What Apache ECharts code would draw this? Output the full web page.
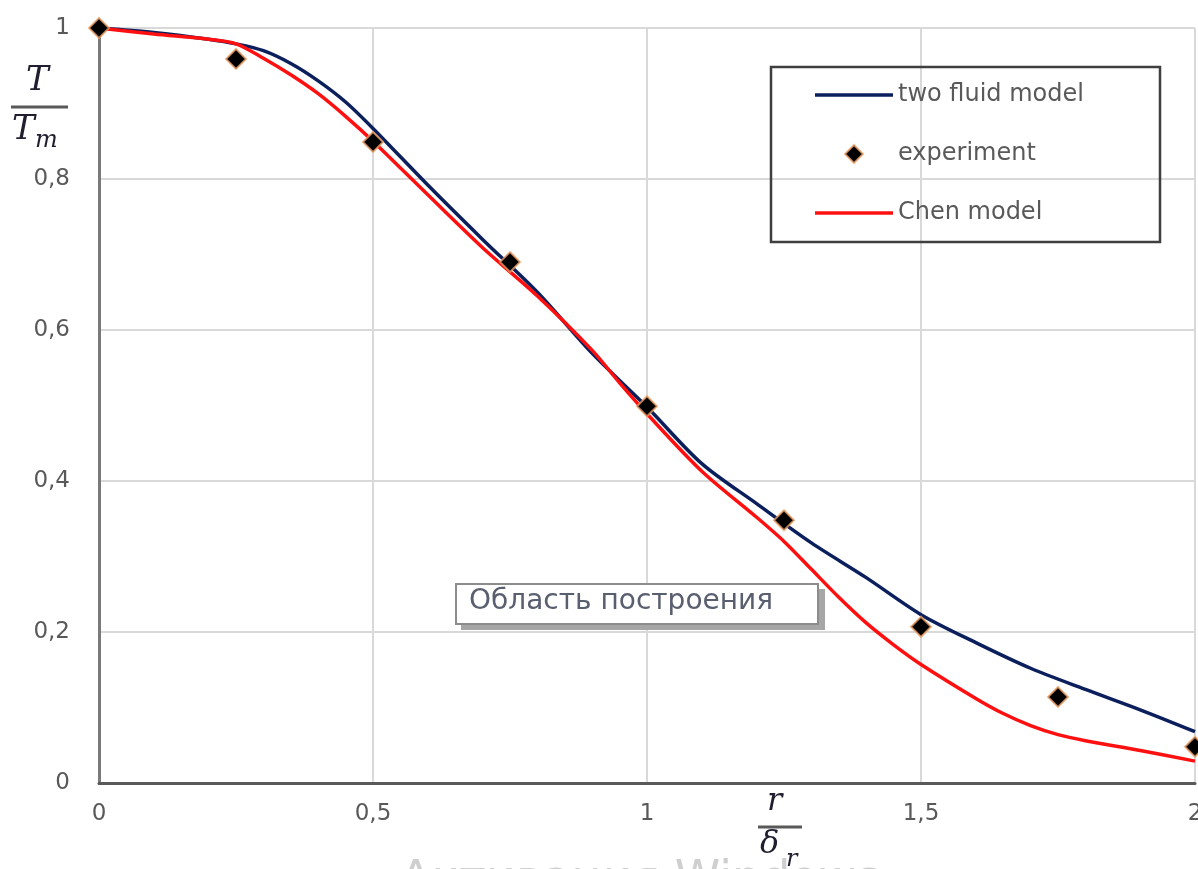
<!DOCTYPE html>
<html>
<head>
<meta charset="utf-8">
<script src="https://cdn.jsdelivr.net/npm/echarts@6/dist/echarts.min.js"></script>
<style>
html,body{margin:0;padding:0;background:#fff;}
#chart{width:1198px;height:869px;}
</style>
</head>
<body>
<div id="chart"></div>
<script>
// ---- data ----
const seriesNames = ['two fluid model', 'experiment', 'Chen model'];

const twoFluidX = [0, 0.1, 0.2, 0.25, 0.3, 0.35, 0.4, 0.45, 0.5, 0.6, 0.7, 0.8, 0.9, 1.0, 1.1, 1.2, 1.3, 1.4, 1.5, 1.6, 1.7, 1.8, 1.9, 2.0];
const twoFluidY = [1.0, 0.994, 0.985, 0.979, 0.970, 0.953, 0.930, 0.902, 0.867, 0.792, 0.720, 0.650, 0.569, 0.498, 0.423, 0.370, 0.318, 0.272, 0.223, 0.186, 0.152, 0.124, 0.097, 0.068];

const chenX = [0, 0.1, 0.2, 0.25, 0.3, 0.35, 0.4, 0.45, 0.5, 0.6, 0.7, 0.8, 0.9, 0.95, 1.0, 1.1, 1.2, 1.25, 1.3, 1.35, 1.4, 1.45, 1.5, 1.6, 1.65, 1.7, 1.75, 1.8, 1.9, 2.0];
const chenY = [1.0, 0.992, 0.985, 0.979, 0.960, 0.938, 0.913, 0.883, 0.850, 0.779, 0.709, 0.645, 0.573, 0.530, 0.489, 0.413, 0.352, 0.320, 0.283, 0.246, 0.212, 0.183, 0.157, 0.112, 0.092, 0.076, 0.064, 0.056, 0.043, 0.029];

const expX = [0, 0.25, 0.5, 0.75, 1.0, 1.25, 1.5, 1.75, 2.0];
const expY = [1.0, 0.959, 0.849, 0.690, 0.499, 0.348, 0.207, 0.114, 0.048];

const xMin = 0, xMax = 2, xStep = 0.5;
const yMin = 0, yMax = 1, yStep = 0.2;

const zip = (xs, ys) => xs.map((x, i) => [x, ys[i]]);
const fmt = v => String(+v.toFixed(2)).replace('.', ',');

const chart = echarts.init(document.getElementById('chart'), null, {renderer: 'canvas'});

const labelFont = 'DejaVu Sans';
const mathFont = 'DejaVu Serif';
const mathColor = '#1f1f2f';
const blue = '#0b1f5c';
const red = '#ff1010';

const lineIcon = 'path://M0,0 L78,0 L78,3.5 L0,3.5 Z';
const diamondIcon = 'path://M0,-10 L10,0 L0,10 L-10,0 Z';

const option = {
  animation: false,
  backgroundColor: '#ffffff',
  grid: {left: 99, right: 3, top: 28, bottom: 86, containLabel: false, outerBoundsMode: 'none'},
  xAxis: {
    type: 'value', min: xMin, max: xMax, interval: xStep,
    axisLine: {show: true, onZero: false, lineStyle: {color: '#595959', width: 3}},
    axisTick: {show: false},
    splitLine: {show: true, lineStyle: {color: '#d9d9d9', width: 2}},
    axisLabel: {color: '#595959', fontSize: 23, fontFamily: labelFont, margin: 20, formatter: fmt}
  },
  yAxis: {
    type: 'value', min: yMin, max: yMax, interval: yStep,
    axisLine: {show: true, onZero: false, lineStyle: {color: '#7a7a7a', width: 3}},
    axisTick: {show: false},
    splitLine: {show: true, lineStyle: {color: '#d9d9d9', width: 2}},
    axisLabel: {color: '#595959', fontSize: 23, fontFamily: labelFont, margin: 29, formatter: fmt}
  },
  legend: {
    orient: 'vertical', left: 815, top: 83,
    itemWidth: 78, itemHeight: 18, itemGap: 35,
    padding: 0, symbolKeepAspect: true,
    data: [
      {name: seriesNames[0], icon: lineIcon},
      {name: seriesNames[1], icon: diamondIcon},
      {name: seriesNames[2], icon: lineIcon}
    ],
    itemStyle: {opacity: 1},
    textStyle: {color: '#595959', fontSize: 24, fontFamily: labelFont}
  },
  series: [
    {
      name: seriesNames[0], type: 'line', data: zip(twoFluidX, twoFluidY),
      symbol: 'none', smooth: 0.3, z: 3,
      lineStyle: {color: blue, width: 3.5}, itemStyle: {color: blue}
    },
    {
      name: seriesNames[1], type: 'scatter', data: zip(expX, expY),
      symbol: 'diamond', symbolSize: [20, 20], z: 5,
      itemStyle: {color: '#000000', opacity: 1, borderColor: 'rgba(240,160,100,0.75)', borderWidth: 2}
    },
    {
      name: seriesNames[2], type: 'line', data: zip(chenX, chenY),
      symbol: 'none', smooth: 0.3, z: 4,
      lineStyle: {color: red, width: 3.5}, itemStyle: {color: red}
    }
  ],
  graphic: [
    // legend frame (transparent)
    {type: 'rect', z: 10, shape: {x: 771, y: 67, width: 389, height: 175},
     style: {fill: 'none', stroke: '#3f3f3f', lineWidth: 2.5}},
    // "Область построения" tooltip-like box with shadow
    {type: 'rect', z: 20, shape: {x: 461, y: 589, width: 364, height: 41},
     style: {fill: '#a6a6a6'}},
    {type: 'rect', z: 21, shape: {x: 456, y: 584, width: 362, height: 40},
     style: {fill: '#ffffff', stroke: '#8c8c8c', lineWidth: 2}},
    {type: 'text', z: 22, left: 469, top: 588,
     style: {text: 'Область построения', fontSize: 28, fontFamily: labelFont, fill: '#5a5f70'}},
    // y axis title: T / T_m
    {type: 'text', z: 10, left: 26, top: 64,
     style: {text: 'T', fontSize: 34, fontStyle: 'italic', fontFamily: mathFont, fill: mathColor}},
    {type: 'line', z: 10, shape: {x1: 11, y1: 107, x2: 68, y2: 107},
     style: {stroke: '#595959', lineWidth: 3}},
    {type: 'text', z: 10, left: 12, top: 113,
     style: {text: 'T', fontSize: 34, fontStyle: 'italic', fontFamily: mathFont, fill: mathColor}},
    {type: 'text', z: 10, left: 35, top: 129,
     style: {text: 'm', fontSize: 24, fontStyle: 'italic', fontFamily: mathFont, fill: mathColor}},
    // x axis title: r / δ_r
    {type: 'text', z: 10, left: 767, top: 786,
     style: {text: 'r', fontSize: 32, fontStyle: 'italic', fontFamily: mathFont, fill: mathColor}},
    {type: 'line', z: 10, shape: {x1: 758, y1: 827, x2: 802, y2: 827},
     style: {stroke: '#595959', lineWidth: 3}},
    {type: 'text', z: 10, left: 760, top: 829,
     style: {text: 'δ', fontSize: 32, fontStyle: 'italic', fontFamily: mathFont, fill: mathColor}},
    {type: 'text', z: 10, left: 786, top: 848,
     style: {text: 'r', fontSize: 24, fontStyle: 'italic', fontFamily: mathFont, fill: mathColor}},
    // clipped watermark at the bottom edge
    {type: 'text', z: 1, left: 400, top: 858,
     style: {text: 'Активация Windows', fontSize: 46, fontFamily: labelFont, fill: '#cfcfcf'}}
  ]
};

chart.setOption(option);
</script>
</body>
</html>
